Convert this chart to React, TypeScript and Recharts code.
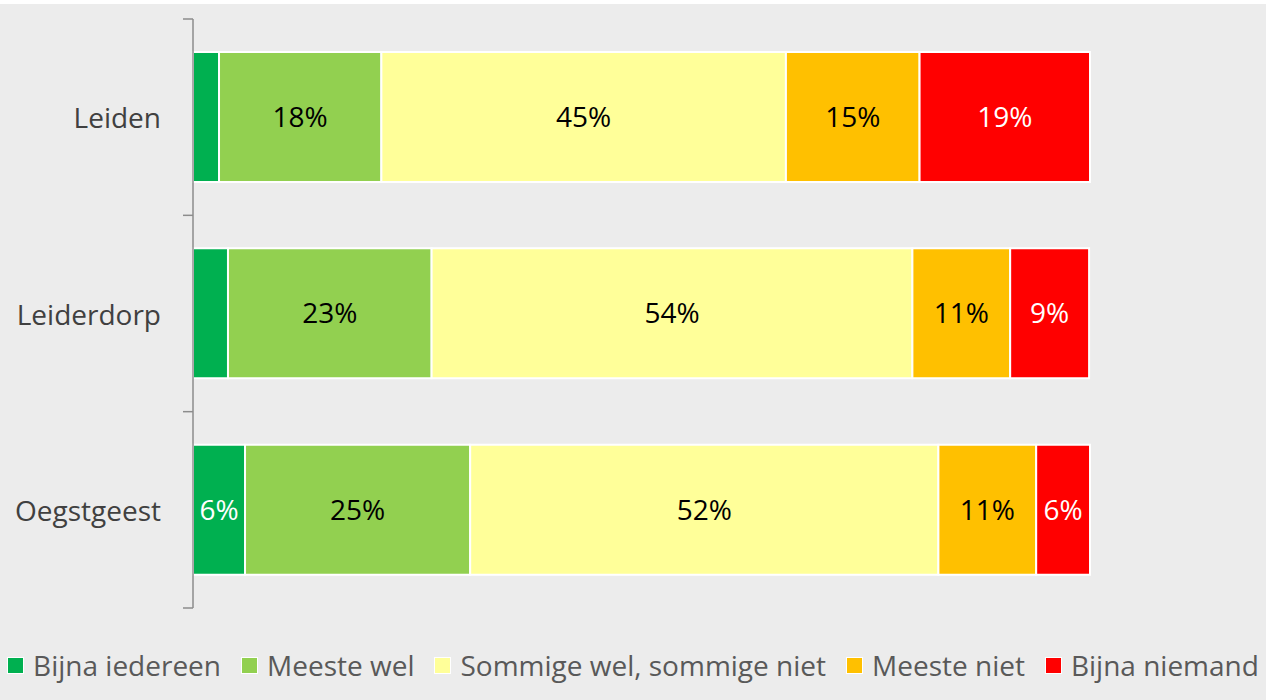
import React from 'react';
import { BarChart, Bar, XAxis, YAxis, LabelList } from 'recharts';

const categories = ['Leiden', 'Leiderdorp', 'Oegstgeest'];
const seriesNames = ['Bijna iedereen', 'Meeste wel', 'Sommige wel, sommige niet', 'Meeste niet', 'Bijna niemand'];
const bijnaIedereen = [2.9, 3.9, 5.8];
const meesteWel = [18.1, 22.7, 25.1];
const sommige = [45.1, 53.6, 52.2];
const meesteNiet = [14.9, 10.9, 10.9];
const bijnaNiemand = [19.0, 8.8, 6.0];

const seriesValues = [bijnaIedereen, meesteWel, sommige, meesteNiet, bijnaNiemand];
const colors = ['#00B050', '#92D050', '#FFFF99', '#FFC000', '#FF0000'];
const labelColors = ['#FFFFFF', '#000000', '#000000', '#000000', '#FFFFFF'];
const keys = ['s0', 's1', 's2', 's3', 's4'];

const data = categories.map((c, i) => {
  const row: any = { name: c };
  keys.forEach((k, j) => (row[k] = seriesValues[j][i]));
  return row;
});

const FONT = '"Open Sans", "Noto Sans", sans-serif';
const AXIS = '#8c8c8c';

const AxisTick = (props: any) => {
  const { x, y, payload, index, height, visibleTicksCount } = props;
  const n = visibleTicksCount || categories.length;
  const band = height / n;
  return (
    <g>
      <line x1={x - 10} x2={x} y1={y - band / 2} y2={y - band / 2} stroke={AXIS} strokeWidth={1.5} />
      {index === n - 1 && (
        <line x1={x - 10} x2={x} y1={y + band / 2} y2={y + band / 2} stroke={AXIS} strokeWidth={1.5} />
      )}
      <text x={x - 32} y={y} dy={11} textAnchor="end" fontSize={28} fill="#404040" fontFamily={FONT}>
        {payload.value}
      </text>
    </g>
  );
};

export default function App() {
  return (
    <div style={{ position: 'absolute', left: 0, top: 0, width: 1266, height: 700, background: '#ffffff' }}>
      <div style={{ position: 'absolute', left: 0, top: 4, width: 1266, height: 696, background: '#ECECEC' }} />
      <div style={{ position: 'absolute', left: 0, top: 0 }}>
        <BarChart
          width={1266}
          height={700}
          data={data}
          layout="vertical"
          margin={{ top: 19, right: 176, bottom: 92, left: 0 }}
        >
          <XAxis type="number" domain={[0, 100]} hide />
          <YAxis
            type="category"
            dataKey="name"
            width={193}
            tickSize={0}
            tickMargin={0}
            tickLine={false}
            interval={0}
            axisLine={{ stroke: AXIS, strokeWidth: 1.5 }}
            tick={<AxisTick />}
          />
          {keys.map((k, j) => (
            <Bar
              key={k}
              dataKey={k}
              stackId="a"
              fill={colors[j]}
              stroke="#ffffff"
              strokeWidth={2}
              barSize={130}
              isAnimationActive={false}
            >
              <LabelList
                dataKey={k}
                position="center"
                fill={labelColors[j]}
                fontSize={28}
                fontFamily={FONT}
                formatter={(v: any) => (v >= 5 ? `${Math.round(v)}%` : '')}
              />
            </Bar>
          ))}
        </BarChart>
      </div>
      <div
        style={{
          position: 'absolute',
          left: 0,
          top: 647,
          width: 1266,
          display: 'flex',
          justifyContent: 'center',
          alignItems: 'center',
          whiteSpace: 'nowrap',
          fontFamily: FONT,
          fontSize: 28,
          color: '#595959',
          lineHeight: '36px',
        }}
      >
        {seriesNames.map((n, j) => (
          <div key={n} style={{ display: 'flex', alignItems: 'center', marginLeft: j === 0 ? 0 : 20 }}>
            <div
              style={{
                width: 15,
                height: 15,
                background: colors[j],
                border: '1.5px solid #ffffff',
                marginRight: 9,
              }}
            />
            <span>{n}</span>
          </div>
        ))}
      </div>
    </div>
  );
}
